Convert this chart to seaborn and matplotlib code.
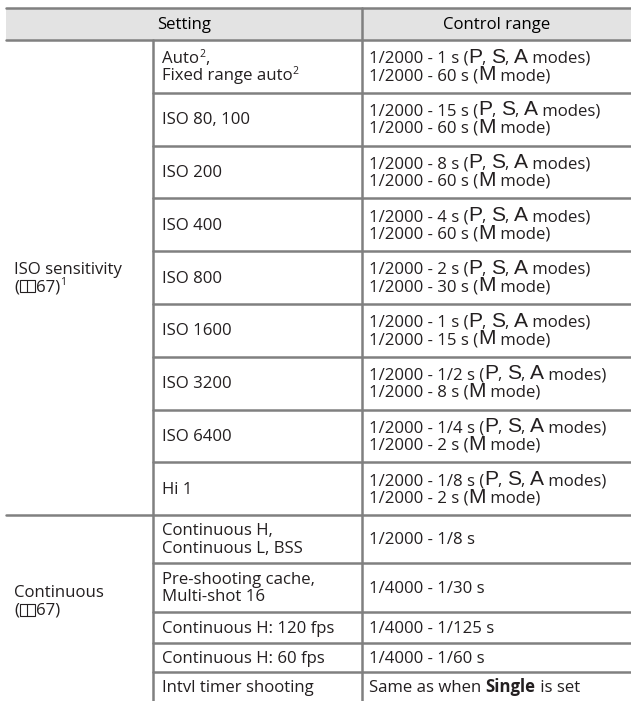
import re
import matplotlib
matplotlib.use("Agg")
import matplotlib.pyplot as plt
import seaborn as sns

# table content
iso_label = "ISO sensitivity|({book}67)^1"
iso_settings = ["Auto^2,|Fixed range auto^2", "ISO 80, 100", "ISO 200", "ISO 400",
                "ISO 800", "ISO 1600", "ISO 3200", "ISO 6400", "Hi 1"]
iso_psa_limit = ["1 s", "15 s", "8 s", "4 s", "2 s", "1 s", "1/2 s", "1/4 s", "1/8 s"]
iso_m_limit = ["60 s", "60 s", "60 s", "60 s", "30 s", "15 s", "8 s", "2 s", "2 s"]
iso_fast = "1/2000"

cont_label = "Continuous|({book}67)"
cont_settings = ["Continuous H,|Continuous L, BSS", "Pre-shooting cache,|Multi-shot 16",
                 "Continuous H: 120 fps", "Continuous H: 60 fps", "Intvl timer shooting"]
cont_ranges = ["1/2000 - 1/8 s", "1/4000 - 1/30 s", "1/4000 - 1/125 s",
               "1/4000 - 1/60 s", "Same as when **Single** is set"]

headers = ["Setting", "Control range"]

# layout (pixels)
W, H = 631, 701
X0, XS, XC, XR = 6, 153, 362, 631
Y_TOP, Y_HEAD = 8, 40
ISO_ROW_H = 52.8
CONT_ROW_H = [48, 49, 31, 29, 40]
LINE_C = "#808080"
TEXT_C = "#231f20"
LW = 1.8
FS = 12.1
LINE_GAP = 17.5

sns.set_theme(style="white")
plt.rcParams["font.family"] = ["Open Sans", "DejaVu Sans"]

fig = plt.figure(figsize=(W / 100, H / 100), dpi=100)
ax = fig.add_axes([0, 0, 1, 1])
ax.set_xlim(0, W)
ax.set_ylim(H, 0)
ax.axis("off")
renderer = fig.canvas.get_renderer()


def width_of(s, **kw):
    t1 = ax.text(0, 0, s + "|", **kw)
    t2 = ax.text(0, 0, "|", **kw)
    w = t1.get_window_extent(renderer).width - t2.get_window_extent(renderer).width
    t1.remove()
    t2.remove()
    return w


TOKEN = re.compile(r"\^(\d)|\*\*(.+?)\*\*|\[([PSAM])\]|(\{book\})|([^\^\*\[\{]+)")


def draw_line(x, y, markup):
    base = dict(fontsize=FS, color=TEXT_C, va="baseline", ha="left")
    for m in TOKEN.finditer(markup):
        sup, bold, big, book, plain = m.groups()
        if sup:
            kw = dict(base, fontsize=FS * 0.62)
            ax.text(x, y - 6, sup, **kw)
            x += width_of(sup, **kw)
        elif bold:
            kw = dict(base, fontweight="bold")
            ax.text(x, y, bold, **kw)
            x += width_of(bold, **kw)
        elif big:
            kw = dict(base, fontsize=FS * 1.25, family="Liberation Sans")
            ax.text(x, y, big, **kw)
            x += width_of(big, **kw)
        elif book:
            bw, bh = 15, 12
            ax.add_patch(plt.Rectangle((x + 1, y - bh + 1), bw, bh, fill=False,
                                       lw=0.8, ec=TEXT_C))
            ax.plot([x + 1 + bw / 2] * 2, [y - bh + 1, y + 1], color=TEXT_C, lw=0.8)
            x += bw + 2
        else:
            ax.text(x, y, plain, **base)
            x += width_of(plain, **base)


def draw_cell(x, y_top, y_bot, markup):
    lines = markup.split("|")
    cy = (y_top + y_bot) / 2
    n = len(lines)
    for i, ln in enumerate(lines):
        base_y = cy + (i - (n - 1) / 2) * LINE_GAP + 5
        draw_line(x, base_y, ln)


# header
ax.add_patch(plt.Rectangle((X0, Y_TOP), XR - X0, Y_HEAD - Y_TOP, color="#e3e3e3", lw=0))
ax.text((X0 + XC) / 2, (Y_TOP + Y_HEAD) / 2 + 1, headers[0], ha="center", va="center",
        fontsize=FS, color="black")
ax.text((XC + XR) / 2, (Y_TOP + Y_HEAD) / 2 + 1, headers[1], ha="center", va="center",
        fontsize=FS, color="black")
ax.plot([X0, XR], [Y_TOP, Y_TOP], color=LINE_C, lw=LW)
ax.plot([X0, XR], [Y_HEAD, Y_HEAD], color=LINE_C, lw=LW)

# ISO sensitivity group
y = Y_HEAD
for i, setting in enumerate(iso_settings):
    y2 = Y_HEAD + (i + 1) * ISO_ROW_H
    draw_cell(XS + 9, y, y2, setting)
    rng = (f"{iso_fast} - {iso_psa_limit[i]} ([P], [S], [A] modes)|"
           f"{iso_fast} - {iso_m_limit[i]} ([M] mode)")
    draw_cell(XC + 7, y, y2, rng)
    if i < len(iso_settings) - 1:
        ax.plot([XS, XR], [y2, y2], color=LINE_C, lw=LW)
    y = y2
iso_bottom = y
draw_cell(X0 + 8, Y_HEAD, iso_bottom, iso_label)
ax.plot([X0, XR], [iso_bottom, iso_bottom], color=LINE_C, lw=LW)

# Continuous group
y = iso_bottom
last = len(cont_settings) - 1
for i, setting in enumerate(cont_settings):
    y2 = y + CONT_ROW_H[i]
    y_text_bot = y + 30 if i == last else y2
    draw_cell(XS + 9, y, y_text_bot, setting)
    draw_cell(XC + 7, y, y_text_bot, cont_ranges[i])
    if i < last:
        ax.plot([XS, XR], [y2, y2], color=LINE_C, lw=LW)
    y = y2
draw_cell(X0 + 8, iso_bottom, 687, cont_label)

# vertical rules
ax.plot([XS, XS], [Y_HEAD, H], color=LINE_C, lw=LW)
ax.plot([XC, XC], [Y_TOP, H], color=LINE_C, lw=LW)

sns.despine(ax=ax, left=True, bottom=True)
fig.savefig("out.png", dpi=100)
